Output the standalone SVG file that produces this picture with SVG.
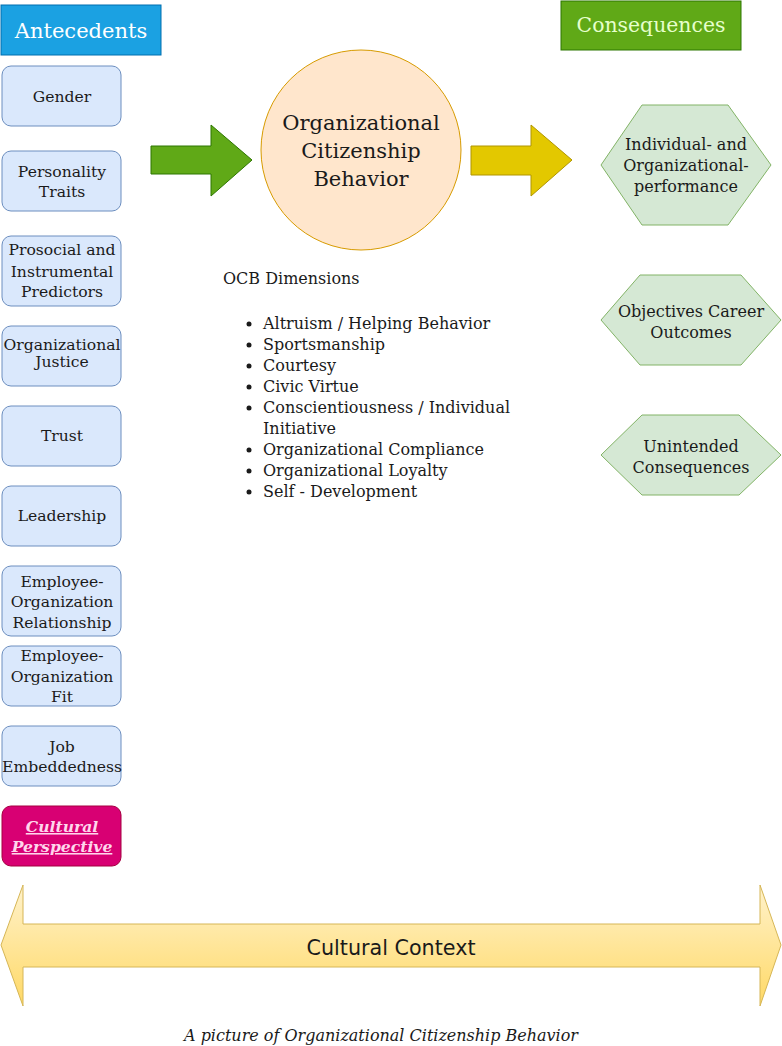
<svg xmlns="http://www.w3.org/2000/svg" width="782" height="1046" viewBox="0 0 782 1046">
<style>
text{font-family:"DejaVu Serif","Liberation Serif",serif;fill:#1a1a1a;text-anchor:middle}
.box{fill:#dae8fc;stroke:#6c8ebf;stroke-width:1}
.hex{fill:#d5e8d4;stroke:#82b366;stroke-width:1}
.bt{font-size:15.6px}
.ht{font-size:16px}
.li{font-size:16px;text-anchor:start}
</style>
<defs>
<linearGradient id="gy" x1="0" y1="0" x2="0" y2="1">
<stop offset="0" stop-color="#fff2cc"/>
<stop offset="1" stop-color="#ffd966"/>
</linearGradient>
</defs>
<rect width="782" height="1046" fill="#ffffff"/>
<g id="antecedents">
<rect x="1" y="5" width="160" height="50" fill="#1ba1e2" stroke="#006eaf"/>
<text x="81" y="38" style="font-size:21px;fill:#ffffff">Antecedents</text>
</g>
<g id="consequences">
<rect x="561" y="1" width="180" height="49" fill="#60a917" stroke="#2d7600"/>
<text x="651" y="32" style="font-size:20.4px;fill:#e6ffcc">Consequences</text>
</g>
<g id="gender"><rect class="box" x="2" y="66" width="119" height="60" rx="9"/><text class="bt" x="62" y="102">Gender</text></g>
<g id="personality"><rect class="box" x="2" y="151" width="119" height="60" rx="9"/><text class="bt" x="62" y="177">Personality</text><text class="bt" x="62" y="197">Traits</text></g>
<g id="prosocial"><rect class="box" x="2" y="236" width="119" height="70" rx="9"/><text class="bt" x="62" y="255">Prosocial and</text><text class="bt" x="62" y="277">Instrumental</text><text class="bt" x="62" y="297">Predictors</text></g>
<g id="justice"><rect class="box" x="2" y="326" width="119" height="60" rx="9"/><text class="bt" x="62" y="350">Organizational</text><text class="bt" x="62" y="367">Justice</text></g>
<g id="trust"><rect class="box" x="2" y="406" width="119" height="60" rx="9"/><text class="bt" x="62" y="441">Trust</text></g>
<g id="leadership"><rect class="box" x="2" y="486" width="119" height="60" rx="9"/><text class="bt" x="62" y="521">Leadership</text></g>
<g id="eor"><rect class="box" x="2" y="566" width="119" height="70" rx="9"/><text class="bt" x="62" y="587">Employee-</text><text class="bt" x="62" y="607">Organization</text><text class="bt" x="62" y="628">Relationship</text></g>
<g id="eof"><rect class="box" x="2" y="646" width="119" height="60" rx="9"/><text class="bt" x="62" y="661">Employee-</text><text class="bt" x="62" y="682">Organization</text><text class="bt" x="62" y="702">Fit</text></g>
<g id="job"><rect class="box" x="2" y="726" width="119" height="60" rx="9"/><text class="bt" x="62" y="752">Job</text><text class="bt" x="62" y="772">Embeddedness</text></g>
<g id="cultural-perspective"><rect x="2" y="806" width="119" height="60" rx="9" fill="#d80073" stroke="#a50040"/><text class="bt" x="62" y="832" style="fill:#ffd6ec;font-style:italic;font-weight:bold;text-decoration:underline">Cultural</text><text class="bt" x="62" y="852" style="fill:#ffd6ec;font-style:italic;font-weight:bold;text-decoration:underline">Perspective</text></g>
<g id="ocb">
<circle cx="361" cy="150" r="100" fill="#ffe6cc" stroke="#d79b00"/>
<text x="361" y="130" style="font-size:21px">Organizational</text>
<text x="361" y="158" style="font-size:21px">Citizenship</text>
<text x="361" y="186" style="font-size:21px">Behavior</text>
</g>
<g id="connectors">
<polygon points="151,146 211,146 211,125 252,160 211,196 211,174 151,174" fill="#60a917" stroke="#2d7600"/>
<polygon points="471,146 531,146 531,125 572,160 531,196 531,175 471,175" fill="#e3c800" stroke="#b09500"/>
</g>
<g id="dimensions">
<text class="li" x="223" y="284">OCB Dimensions</text>
<circle cx="249" cy="324" r="2.5" fill="#1a1a1a"/><text class="li" x="263" y="329">Altruism / Helping Behavior</text>
<circle cx="249" cy="345" r="2.5" fill="#1a1a1a"/><text class="li" x="263" y="350">Sportsmanship</text>
<circle cx="249" cy="366" r="2.5" fill="#1a1a1a"/><text class="li" x="263" y="371">Courtesy</text>
<circle cx="249" cy="387" r="2.5" fill="#1a1a1a"/><text class="li" x="263" y="392">Civic Virtue</text>
<circle cx="249" cy="408" r="2.5" fill="#1a1a1a"/><text class="li" x="263" y="413">Conscientiousness / Individual</text>
<text class="li" x="263" y="434">Initiative</text>
<circle cx="249" cy="450" r="2.5" fill="#1a1a1a"/><text class="li" x="263" y="455">Organizational Compliance</text>
<circle cx="249" cy="471" r="2.5" fill="#1a1a1a"/><text class="li" x="263" y="476">Organizational Loyalty</text>
<circle cx="249" cy="492" r="2.5" fill="#1a1a1a"/><text class="li" x="263" y="497">Self - Development</text>
</g>
<g id="performance"><polygon class="hex" points="601,165 642,105 728,105 771,165 728,225 642,225"/><text class="ht" x="686" y="150">Individual- and</text><text class="ht" x="686" y="171">Organizational-</text><text class="ht" x="686" y="192">performance</text></g>
<g id="career"><polygon class="hex" points="601,320 640,275 741,275 781,320 741,365 640,365"/><text class="ht" x="691" y="317">Objectives Career</text><text class="ht" x="691" y="338">Outcomes</text></g>
<g id="unintended"><polygon class="hex" points="601,455 642,415 739,415 781,455 739,495 642,495"/><text class="ht" x="691" y="452">Unintended</text><text class="ht" x="691" y="473">Consequences</text></g>
<g id="cultural-context">
<polygon points="1,945 23,885 23,924 760,924 760,885 781,945 760,1006 760,967 23,967 23,1006" fill="url(#gy)" stroke="#d6b656"/>
<text x="391" y="955" textLength="169" lengthAdjust="spacingAndGlyphs" style="font-family:'DejaVu Sans','Liberation Sans',sans-serif;font-size:22px">Cultural Context</text>
</g>
<text id="caption" x="381" y="1041" textLength="394" lengthAdjust="spacingAndGlyphs" style="font-size:17px;font-style:italic;font-stretch:condensed">A picture of Organizational Citizenship Behavior</text>
</svg>
